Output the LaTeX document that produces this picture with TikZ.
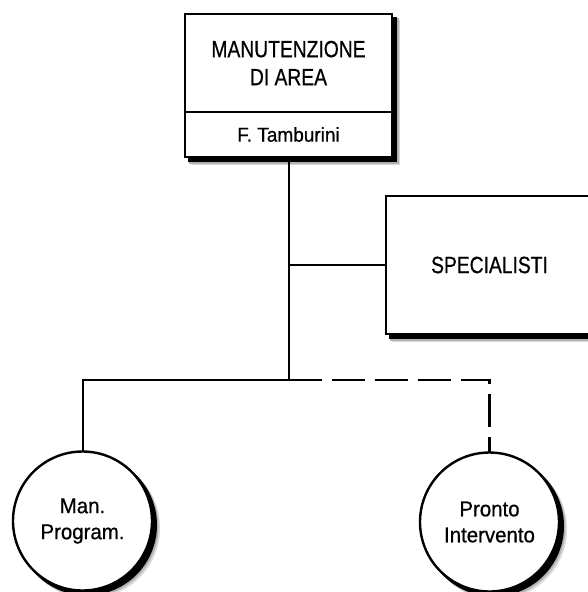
\documentclass[tikz,border=0pt]{standalone}
\usepackage{fontspec}
\setmainfont[FakeStretch=0.82, FakeBold=0.6]{Liberation Sans}
\newfontfamily\labelfont[FakeStretch=0.95, FakeBold=0.6]{Liberation Sans}
\usetikzlibrary{backgrounds}

\tikzset{
	unitbox/.style={draw, line width=2.8pt, fill=white, rectangle, minimum width=207pt,
		align=center, inner sep=0pt},
	unitcircle/.style={draw, line width=2.4pt, fill=white, circle, minimum size=139pt,
		align=center, inner sep=0pt,
		font=\labelfont\fontsize{21.5}{26}\selectfont},
	link/.style={line width=2pt},
	dashlink/.style={line width=2.6pt, dash pattern=on 33pt off 10pt}
}

\begin{document}
\begin{tikzpicture}[x=1pt, y=-1pt]
		\useasboundingbox (0,0) rectangle (588,592);
		
		% Junctions
		\coordinate (mid) at (288.5,265);
		\coordinate (bot) at (288.5,380);
		
		% Lines
		\draw[link] (288.5,150) -- (bot);
		\draw[link] (mid) -- (400,265);
		\draw[link] (bot) -| (82.5,460);
		\draw[dashlink] (bot) -| (489.5,460);
		
		% Boxes
		\node[unitbox, minimum height=98pt, font=\fontsize{23.5}{28}\selectfont] (area) at (288.5,63) {MANUTENZIONE\\DI AREA};
		\node[unitbox, minimum height=45pt, font=\labelfont\fontsize{20}{24}\selectfont] (resp) at (288.5,134.5) {F. Tamburini};
		\node[unitbox, minimum height=138pt, font=\fontsize{23.5}{28}\selectfont] (spec) at (489.5,265) {SPECIALISTI};
		
		% Circles
		\node[unitcircle] (prog) at (82.5,521) {Man.\\Program.};
		\node[unitcircle] (pronto) at (489.5,522) {Pronto\\Intervento};
		
		% Shadows
		\begin{scope}[on background layer]
		\foreach \d/\c in {7/gray!30, 5.5/gray!60, 4/black}
		{
			\fill[\c] ([xshift=\d pt, yshift=-\d pt]area.north west) rectangle ([xshift=\d pt, yshift=-\d pt]resp.south east);
			\fill[\c] ([xshift=\d pt, yshift=-\d pt]spec.north west) rectangle ([xshift=\d pt, yshift=-\d pt]spec.south east);
			\fill[\c] ([xshift=\d pt, yshift=-\d pt]prog.center) circle (70.5pt);
			\fill[\c] ([xshift=\d pt, yshift=-\d pt]pronto.center) circle (70.5pt);
		}
		\end{scope}
\end{tikzpicture}
\end{document}
